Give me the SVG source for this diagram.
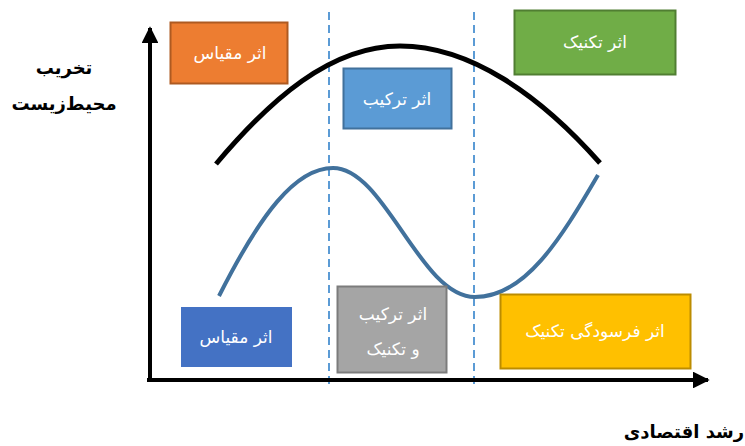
<svg xmlns="http://www.w3.org/2000/svg" width="745" height="446" viewBox="0 0 745 446">
<style>
.lbl{font-family:"DejaVu Sans","Noto Sans",sans-serif;font-size:17px;fill:#ffffff;text-anchor:middle;direction:rtl}
.ax{font-family:"DejaVu Sans","Noto Sans",sans-serif;font-size:18px;font-weight:bold;fill:#000;text-anchor:middle;direction:rtl}
.dash{stroke:#5B9BD5;stroke-width:2;stroke-dasharray:8,5;fill:none}
</style>
<defs>
<marker id="ah" viewBox="0 0 10 10" refX="9" refY="5" markerWidth="4.2" markerHeight="4.2" orient="auto" markerUnits="strokeWidth">
<path d="M0,0 L10,5 L0,10 Z" fill="#000"/>
</marker>
</defs>
<rect width="745" height="446" fill="#fff"/>
<g id="connectors">
<line class="dash" x1="329" y1="12" x2="329" y2="386"/>
<line class="dash" x1="474" y1="12" x2="474" y2="386"/>
<line x1="150" y1="382" x2="150" y2="28" stroke="#000" stroke-width="4" marker-end="url(#ah)"/>
<line x1="147" y1="380" x2="708" y2="380" stroke="#000" stroke-width="4" marker-end="url(#ah)"/>
<path d="M216,164 C270,100 330,46 400,46 C470,46 540,95 600,163" fill="none" stroke="#000" stroke-width="5"/>
<path d="M219,296 C260,215 295,168 333,168 C385,168 420,297 475,297 C525,297 560,240 598,175" fill="none" stroke="#41719C" stroke-width="4"/>
</g>
<g id="scale-top">
<rect x="170.5" y="22.5" width="117" height="61" fill="#ED7D31" stroke="#AE5A21" stroke-width="2"/>
<text class="lbl" x="230" y="59">اثر مقیاس</text>
</g>
<g id="composition-top">
<rect x="343.5" y="68.5" width="108" height="60" fill="#5B9BD5" stroke="#41719C" stroke-width="2"/>
<text class="lbl" x="397" y="105">اثر ترکیب</text>
</g>
<g id="technique-top">
<rect x="514.5" y="10.5" width="161" height="64" fill="#70AD47" stroke="#507E32" stroke-width="2"/>
<text class="lbl" x="595" y="48">اثر تکنیک</text>
</g>
<g id="scale-bottom">
<rect x="181" y="307" width="111" height="60" fill="#4472C4"/>
<text class="lbl" x="236" y="343">اثر مقیاس</text>
</g>
<g id="composition-technique">
<rect x="337.5" y="286.5" width="109" height="86" fill="#A5A5A5" stroke="#7C7C7C" stroke-width="2"/>
<text class="lbl" x="393" y="320">اثر ترکیب</text>
<text class="lbl" x="393" y="355">و تکنیک</text>
</g>
<g id="obsolescence">
<rect x="500.5" y="294.5" width="190" height="74" fill="#FFC000" stroke="#BC8C00" stroke-width="2"/>
<text class="lbl" x="595" y="337">اثر فرسودگی تکنیک</text>
</g>
<g id="y-label">
<text class="ax" x="64" y="74">تخریب</text>
<text class="ax" x="64" y="110">محیط‌زیست</text>
</g>
<g id="x-label">
<text class="ax" x="684" y="438">رشد اقتصادی</text>
</g>
</svg>
